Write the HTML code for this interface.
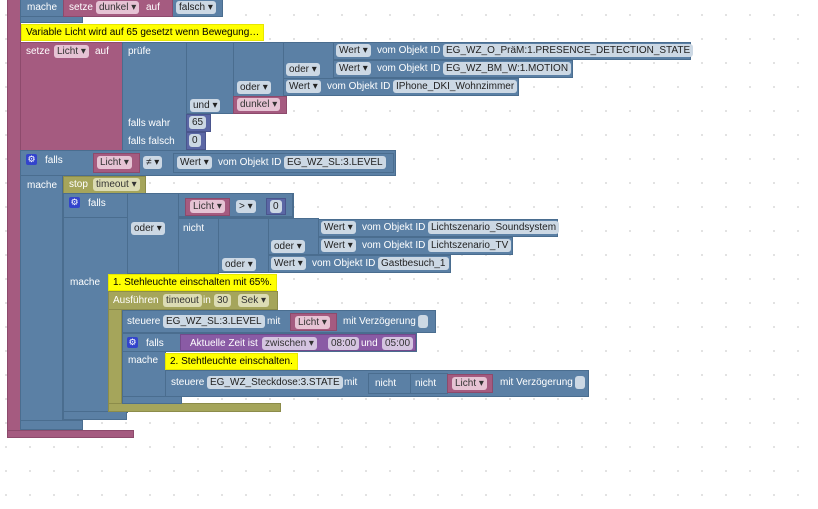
<!DOCTYPE html><html><head><meta charset="utf-8"><style>
body{margin:0;width:818px;height:509px;overflow:hidden;background:#fff;background-image:radial-gradient(#d8d8d8 0.8px,transparent 1px);background-size:24px 24px;background-position:-6px 3px;font-family:"Liberation Sans",Arial,sans-serif;font-size:10px;position:relative}
div{position:absolute;box-sizing:border-box}
.b{background:#5b80a5;border:1px solid #4a6d8f}
.p{background:#a55b80;border:1px solid #8d4a6c}
.o{background:#a5a55b;border:1px solid #8c8c4a}
.u{background:#8a5ba5;border:1px solid #734a8c}
.n{background:#5b67a5;border:1px solid #4a558d}
.y{background:#ffff00;border:1px solid #e6e600;color:#000;padding:2px 4px;white-space:nowrap;line-height:11px}
.t{color:#fff;white-space:nowrap;line-height:12px}
.f{background:#ccd8e4;color:#222;border-radius:3px;padding:0 3px;white-space:nowrap;line-height:13px;height:13px}
.fp{background:#e6c3d4;color:#333;border-radius:3px;padding:0 3px;white-space:nowrap;line-height:13px;height:13px}
.fo{background:#dcdcb4;color:#333;border-radius:3px;padding:0 3px;white-space:nowrap;line-height:13px;height:13px}
.fu{background:#d4c4e0;color:#333;border-radius:3px;padding:0 3px;white-space:nowrap;line-height:13px;height:13px}
.g{width:11px;height:11px;background:#3344cc;border-radius:2px;color:#fff;font-size:9px;line-height:11px;text-align:center}
</style></head><body>
<!-- outer pink frame -->
<div class="p" style="left:7px;top:-2px;width:14px;height:440px"></div>
<div class="p" style="left:7px;top:430px;width:127px;height:8px"></div>
<!-- top mache row -->
<div class="b" style="left:20px;top:-2px;width:203px;height:19px"></div>
<div class="b" style="left:20px;top:16px;width:63px;height:7px"></div>
<div class="t" style="left:27px;top:2px">mache</div>
<div class="p" style="left:63px;top:-2px;width:110px;height:19px"></div>
<div class="t" style="left:69px;top:2px">setze</div>
<div class="fp" style="left:96px;top:1px">dunkel ▾</div>
<div class="t" style="left:146px;top:2px">auf</div>
<div class="f" style="left:176px;top:1px">falsch ▾</div>
<div class="y" style="left:21px;top:24px">Variable Licht wird auf 65 gesetzt wenn Bewegung…</div>
<!-- setze Licht -->
<div class="p" style="left:20px;top:42px;width:103px;height:109px"></div>
<div class="t" style="left:26px;top:46px">setze</div>
<div class="fp" style="left:54px;top:45px">Licht ▾</div>
<div class="t" style="left:95px;top:46px">auf</div>
<div class="b" style="left:122px;top:42px;width:65px;height:109px"></div>
<div class="t" style="left:128px;top:46px">prüfe</div>
<div class="t" style="left:128px;top:118px">falls wahr</div>
<div class="t" style="left:128px;top:136px">falls falsch</div>
<div class="b" style="left:186px;top:42px;width:48px;height:72px"></div>
<div class="f" style="left:190px;top:99px">und ▾</div>
<div class="b" style="left:233px;top:42px;width:51px;height:55px"></div>
<div class="f" style="left:237px;top:81px">oder ▾</div>
<div class="b" style="left:283px;top:42px;width:51px;height:37px"></div>
<div class="f" style="left:286px;top:63px">oder ▾</div>
<div class="b" style="left:333px;top:42px;width:358px;height:18px"></div>
<div class="f" style="left:336px;top:44px">Wert ▾</div><div class="t" style="left:377px;top:45px">vom Objekt ID</div><div class="f" style="left:443px;top:44px">EG_WZ_O_PräM:1.PRESENCE_DETECTION_STATE</div>
<div class="b" style="left:333px;top:60px;width:240px;height:18px"></div>
<div class="f" style="left:336px;top:62px">Wert ▾</div><div class="t" style="left:377px;top:63px">vom Objekt ID</div><div class="f" style="left:443px;top:62px">EG_WZ_BM_W:1.MOTION</div>
<div class="b" style="left:283px;top:78px;width:236px;height:18px"></div>
<div class="f" style="left:286px;top:80px">Wert ▾</div><div class="t" style="left:327px;top:81px">vom Objekt ID</div><div class="f" style="left:393px;top:80px">IPhone_DKI_Wohnzimmer</div>
<div class="p" style="left:233px;top:96px;width:54px;height:18px"></div>
<div class="fp" style="left:237px;top:98px">dunkel ▾</div>
<div class="n" style="left:186px;top:114px;width:25px;height:18px"></div><div class="f" style="left:189px;top:116px">65</div>
<div class="n" style="left:186px;top:132px;width:20px;height:18px"></div><div class="f" style="left:189px;top:134px">0</div>
<!-- falls block -->
<div class="b" style="left:20px;top:150px;width:376px;height:26px"></div>
<div class="b" style="left:20px;top:175px;width:43px;height:248px"></div>
<div class="b" style="left:20px;top:420px;width:63px;height:10px"></div>
<div class="g" style="left:26px;top:154px">⚙</div><div class="t" style="left:45px;top:155px">falls</div>
<div class="t" style="left:27px;top:180px">mache</div>
<div class="p" style="left:93px;top:153px;width:47px;height:20px"></div><div class="fp" style="left:97px;top:156px">Licht ▾</div>
<div class="f" style="left:143px;top:156px">≠ ▾</div>
<div class="b" style="left:173px;top:153px;width:221px;height:20px"></div>
<div class="f" style="left:177px;top:156px">Wert ▾</div><div class="t" style="left:218px;top:157px">vom Objekt ID</div><div class="f" style="left:284px;top:156px">EG_WZ_SL:3.LEVEL</div>
<!-- stop timeout -->
<div class="o" style="left:63px;top:176px;width:83px;height:18px"></div>
<div class="t" style="left:69px;top:179px">stop</div><div class="fo" style="left:93px;top:178px">timeout ▾</div>
<!-- inner falls -->
<div class="b" style="left:63px;top:193px;width:231px;height:25px"></div>
<div class="b" style="left:63px;top:217px;width:65px;height:196px"></div>
<div class="b" style="left:63px;top:411px;width:64px;height:9px"></div>
<div class="g" style="left:69px;top:197px">⚙</div><div class="t" style="left:88px;top:198px">falls</div>
<div class="t" style="left:70px;top:277px">mache</div>
<div class="b" style="left:127px;top:193px;width:52px;height:81px"></div>
<div class="f" style="left:131px;top:222px">oder ▾</div>
<div class="b" style="left:178px;top:193px;width:115px;height:24px"></div>
<div class="p" style="left:185px;top:198px;width:45px;height:18px"></div><div class="fp" style="left:190px;top:200px">Licht ▾</div>
<div class="f" style="left:236px;top:200px">&gt; ▾</div>
<div class="n" style="left:266px;top:198px;width:20px;height:17px"></div><div class="f" style="left:270px;top:200px">0</div>
<div class="b" style="left:178px;top:218px;width:41px;height:56px"></div>
<div class="t" style="left:183px;top:223px">nicht</div>
<div class="b" style="left:218px;top:218px;width:51px;height:55px"></div>
<div class="f" style="left:222px;top:258px">oder ▾</div>
<div class="b" style="left:268px;top:218px;width:51px;height:37px"></div>
<div class="f" style="left:271px;top:240px">oder ▾</div>
<div class="b" style="left:318px;top:219px;width:240px;height:18px"></div>
<div class="f" style="left:321px;top:221px">Wert ▾</div><div class="t" style="left:362px;top:222px">vom Objekt ID</div><div class="f" style="left:428px;top:221px">Lichtszenario_Soundsystem</div>
<div class="b" style="left:318px;top:237px;width:195px;height:18px"></div>
<div class="f" style="left:321px;top:239px">Wert ▾</div><div class="t" style="left:362px;top:240px">vom Objekt ID</div><div class="f" style="left:428px;top:239px">Lichtszenario_TV</div>
<div class="b" style="left:268px;top:255px;width:183px;height:18px"></div>
<div class="f" style="left:271px;top:257px">Wert ▾</div><div class="t" style="left:312px;top:258px">vom Objekt ID</div><div class="f" style="left:378px;top:257px">Gastbesuch_1</div>
<!-- comment 1 + timeout -->
<div class="y" style="left:108px;top:274px">1. Stehleuchte einschalten mit 65%.</div>
<div class="o" style="left:108px;top:291px;width:170px;height:19px"></div>
<div class="o" style="left:108px;top:309px;width:14px;height:96px"></div>
<div class="o" style="left:108px;top:403px;width:173px;height:9px"></div>
<div class="t" style="left:113px;top:295px">Ausführen</div><div class="fo" style="left:163px;top:294px">timeout</div><div class="t" style="left:203px;top:295px">in</div><div class="fo" style="left:214px;top:294px">30</div><div class="fo" style="left:238px;top:294px">Sek ▾</div>
<!-- steuere 1 -->
<div class="b" style="left:122px;top:310px;width:314px;height:23px"></div>
<div class="t" style="left:127px;top:316px">steuere</div><div class="f" style="left:163px;top:315px">EG_WZ_SL:3.LEVEL</div><div class="t" style="left:267px;top:316px">mit</div>
<div class="p" style="left:290px;top:313px;width:47px;height:18px"></div><div class="fp" style="left:295px;top:316px">Licht ▾</div>
<div class="t" style="left:343px;top:316px">mit Verzögerung</div>
<div style="left:418px;top:315px;width:10px;height:13px;background:#ccd8e4;border-radius:3px"></div>
<!-- falls time -->
<div class="b" style="left:122px;top:333px;width:295px;height:19px"></div>
<div class="b" style="left:122px;top:351px;width:44px;height:51px"></div>
<div class="b" style="left:122px;top:396px;width:60px;height:8px"></div>
<div class="g" style="left:127px;top:337px">⚙</div><div class="t" style="left:146px;top:338px">falls</div>
<div class="t" style="left:128px;top:355px">mache</div>
<div class="u" style="left:180px;top:334px;width:236px;height:17px"></div>
<div class="t" style="left:190px;top:338px">Aktuelle Zeit ist</div><div class="fu" style="left:262px;top:337px">zwischen ▾</div><div class="fu" style="left:328px;top:337px">08:00</div><div class="t" style="left:361px;top:338px">und</div><div class="fu" style="left:382px;top:337px">05:00</div>
<div class="y" style="left:165px;top:353px">2. Stehtleuchte einschalten.</div>
<div class="b" style="left:165px;top:370px;width:424px;height:27px"></div>
<div class="t" style="left:171px;top:377px">steuere</div><div class="f" style="left:207px;top:376px">EG_WZ_Steckdose:3.STATE</div><div class="t" style="left:344px;top:377px">mit</div>
<div class="b" style="left:368px;top:373px;width:43px;height:21px"></div><div class="t" style="left:375px;top:378px">nicht</div>
<div class="b" style="left:410px;top:373px;width:38px;height:21px"></div><div class="t" style="left:415px;top:378px">nicht</div>
<div class="p" style="left:447px;top:374px;width:46px;height:19px"></div><div class="fp" style="left:452px;top:377px">Licht ▾</div>
<div class="t" style="left:500px;top:377px">mit Verzögerung</div>
<div style="left:575px;top:376px;width:10px;height:13px;background:#ccd8e4;border-radius:3px"></div>
</body></html>
